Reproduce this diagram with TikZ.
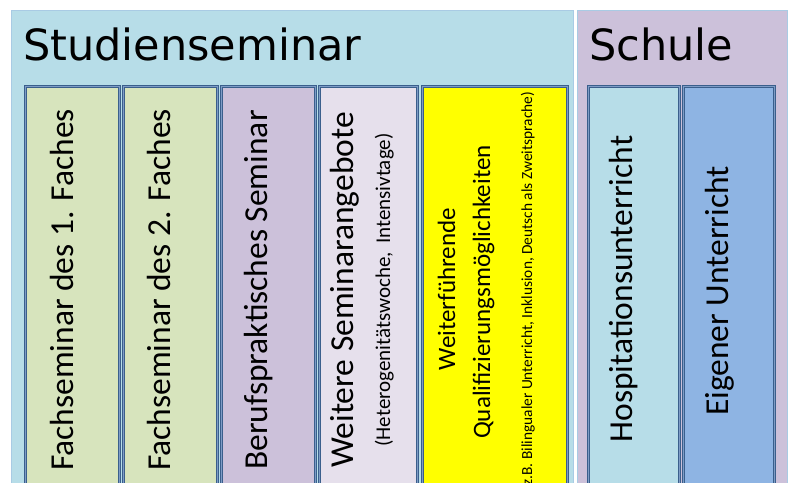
\documentclass[tikz,border=0pt]{standalone}
\usepackage{fontspec}
\setmainfont{Carlito}
\newfontfamily\titlefont{DejaVu Sans}
\definecolor{panelblue}{HTML}{B7DDE8}
\definecolor{panelpurple}{HTML}{CCC1DA}
\definecolor{boxgreen}{HTML}{D7E4BD}
\definecolor{boxpurple}{HTML}{CCC1DA}
\definecolor{boxlav}{HTML}{E6E0EC}
\definecolor{boxyellow}{HTML}{FFFF00}
\definecolor{boxlblue}{HTML}{B7DDE8}
\definecolor{boxblue}{HTML}{8EB4E3}
\definecolor{boxedge}{HTML}{3A5F8C}
\definecolor{boxinner}{HTML}{7E9CC6}
\definecolor{paneledge}{HTML}{A9CBE4}
\tikzset{
  panel/.style={draw=paneledge, line width=1pt, anchor=north west, inner sep=0pt},
  colbox/.style={draw=boxedge, line width=2.6pt, anchor=north west, inner sep=0pt,
    minimum height=430pt,
    postaction={draw=boxinner, line width=0.6pt}},
  title/.style={font=\titlefont\fontsize{43}{50}\selectfont, anchor=base west, inner sep=0pt},
  vtext/.style={rotate=90, anchor=base, inner sep=0pt, font=\fontsize{33.5}{40}\selectfont},
  vmid/.style={rotate=90, anchor=base, inner sep=0pt, font=\fontsize{25}{30}\selectfont},
  vsmall/.style={rotate=90, anchor=base, inner sep=0pt, font=\fontsize{21}{25}\selectfont},
  vtiny/.style={rotate=90, anchor=base, inner sep=0pt, font=\fontsize{15.4}{18}\selectfont},
}
\begin{document}
\begin{tikzpicture}[x=1pt,y=1pt]
\clip (0,0) rectangle (792,-482);
\fill[white] (0,0) rectangle (792,-482);
% panels
\node[panel, fill=panelblue, minimum width=562pt, minimum height=500pt] (studpanel) at (11,-10) {};
\node[panel, fill=panelpurple, minimum width=210pt, minimum height=500pt] (schulpanel) at (577,-10) {};
\node[title] (studtitle) at (23,-60) {Studienseminar};
\node[title] (schultitle) at (589,-60) {Schule};
% columns
\node[colbox, fill=boxgreen, minimum width=94pt] (b1) at (24,-85) {};
\node[colbox, fill=boxgreen, minimum width=94pt] (b2) at (122,-85) {};
\node[colbox, fill=boxpurple, minimum width=94pt] (b3) at (220,-85) {};
\node[colbox, fill=boxlav, minimum width=98pt] (b4) at (318,-85) {};
\node[colbox, fill=boxyellow, minimum width=145pt] (b5) at (421,-85) {};
\node[colbox, fill=boxlblue, minimum width=91pt] (b6) at (587,-85) {};
\node[colbox, fill=boxblue, minimum width=91pt] (b7) at (682,-85) {};
% texts
\node[vtext] (t1) at (73,-290) {Fachseminar des 1. Faches};
\node[vtext] (t2) at (170,-290) {Fachseminar des 2. Faches};
\node[vtext] (t3) at (267,-290) {Berufspraktisches Seminar};
\node[vtext] (t4) at (353,-290) {Weitere Seminarangebote};
\node[vsmall] (t4b) at (390,-290) {(Heterogenitätswoche,\, Intensivtage)};
\node[vmid] (t5a) at (455,-289) {Weiterführende};
\node[vmid] (t5b) at (490,-292) {Qualifizierungsmöglichkeiten};
\node[vtiny] (t5c) at (532,-291) {(z.B. Bilingualer Unterricht, Inklusion, Deutsch als Zweitsprache)};
\node[vtext] (t6) at (632,-289) {Hospitationsunterricht};
\node[vtext] (t7) at (728,-291) {Eigener Unterricht};
\end{tikzpicture}
\end{document}
